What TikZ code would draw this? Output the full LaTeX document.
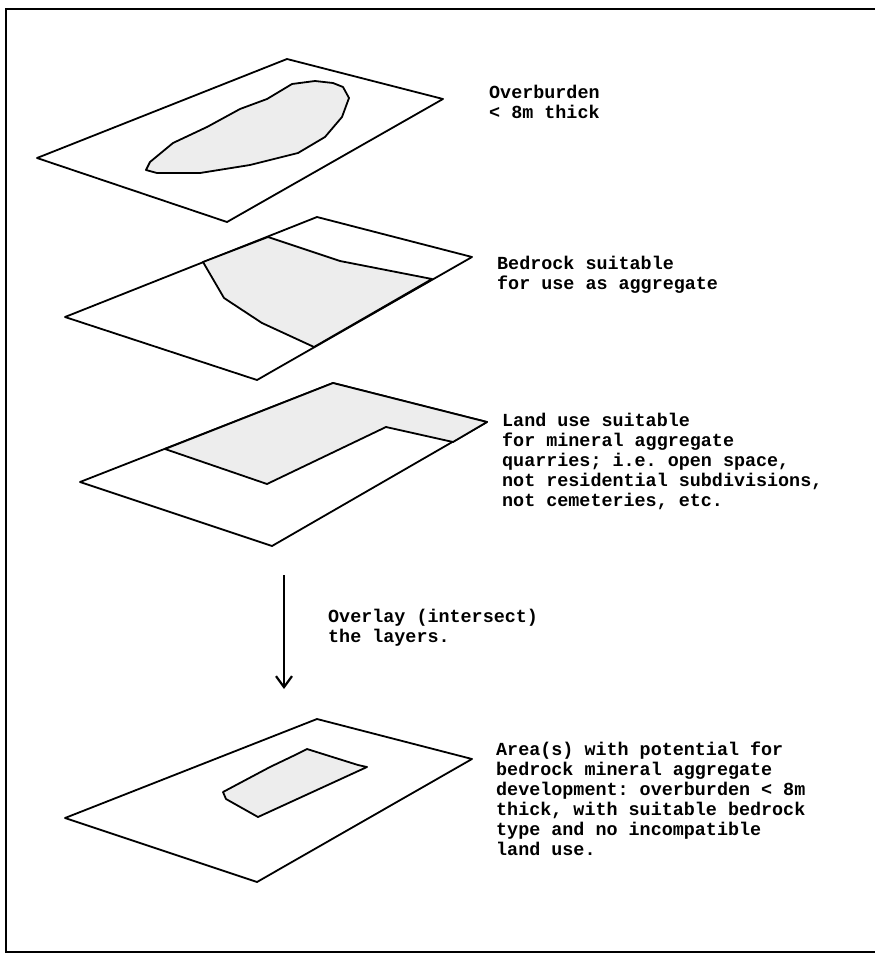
\documentclass[tikz,border=0pt]{standalone}
\usepackage{fontspec}
\setmonofont{Liberation Mono}
\usetikzlibrary{arrows.meta}
\begin{document}
\begin{tikzpicture}[x=1pt,y=-1pt,
  plate/.style={draw=black,line width=1.8pt,line join=round,fill=white},
  zone/.style={draw=black,line width=1.8pt,line join=round,fill=gray!14},
  caption/.style={anchor=base west,inner sep=0pt,align=left,
    font=\fontsize{18.4}{20}\selectfont\ttfamily\bfseries}]
\useasboundingbox (0,0) rectangle (875,953);
\draw[line width=2.2pt] (875,9) -- (6,9) -- (6,952) -- (875,952);
% overburden
\draw[plate] (37,158) -- (287,59) -- (443,99) -- (227,222) -- cycle;
\draw[zone] (146,170) -- (157,173) -- (200,173) -- (250,165) -- (298,153)
  -- (325,137) -- (342,117) -- (349,98) -- (343,87) -- (333,83) -- (315,81)
  -- (292,84) -- (267,99) -- (240,109) -- (207,127) -- (173,143) -- (150,162) -- cycle;
\node[caption] (over) at (489,118) {Overburden\\< 8m thick};
% bedrock
\draw[plate] (65,317) -- (317,217) -- (472,257) -- (257,380) -- cycle;
\draw[zone] (203,262) -- (268,237) -- (340,261) -- (432,279) -- (314,347)
  -- (262,323) -- (224,298) -- cycle;
\node[caption] (rock) at (497,289) {Bedrock suitable\\for use as aggregate};
% land use
\draw[plate] (80,482) -- (333,383) -- (487,422) -- (272,546) -- cycle;
\draw[zone] (165,449) -- (333,383) -- (487,422) -- (453,442) -- (386,427)
  -- (267,484) -- cycle;
\node[caption] (land) at (502,506) {Land use suitable\\for mineral aggregate\\quarries; i.e. open space,\\not residential subdivisions,\\not cemeteries, etc.};
% overlay
\coordinate (arrtop) at (284,575);
\coordinate (arrbot) at (284,689);
\draw[line width=2.4pt,-{Straight Barb[length=11pt,width=16pt,line width=2.2pt]}] (arrtop) -- (arrbot);
\node[caption] (ovly) at (328,642) {Overlay (intersect)\\the layers.};
% result
\draw[plate] (65,818) -- (317,719) -- (472,759) -- (257,882) -- cycle;
\draw[zone] (223,792) -- (226,799) -- (258,817) -- (367,767) -- (358,765)
  -- (307,749) -- (293,756) -- (270,767) -- cycle;
\node[caption] (area) at (496,855) {Area(s) with potential for\\bedrock mineral aggregate\\development: overburden < 8m\\thick, with suitable bedrock\\type and no incompatible\\land use.};
\end{tikzpicture}
\end{document}
